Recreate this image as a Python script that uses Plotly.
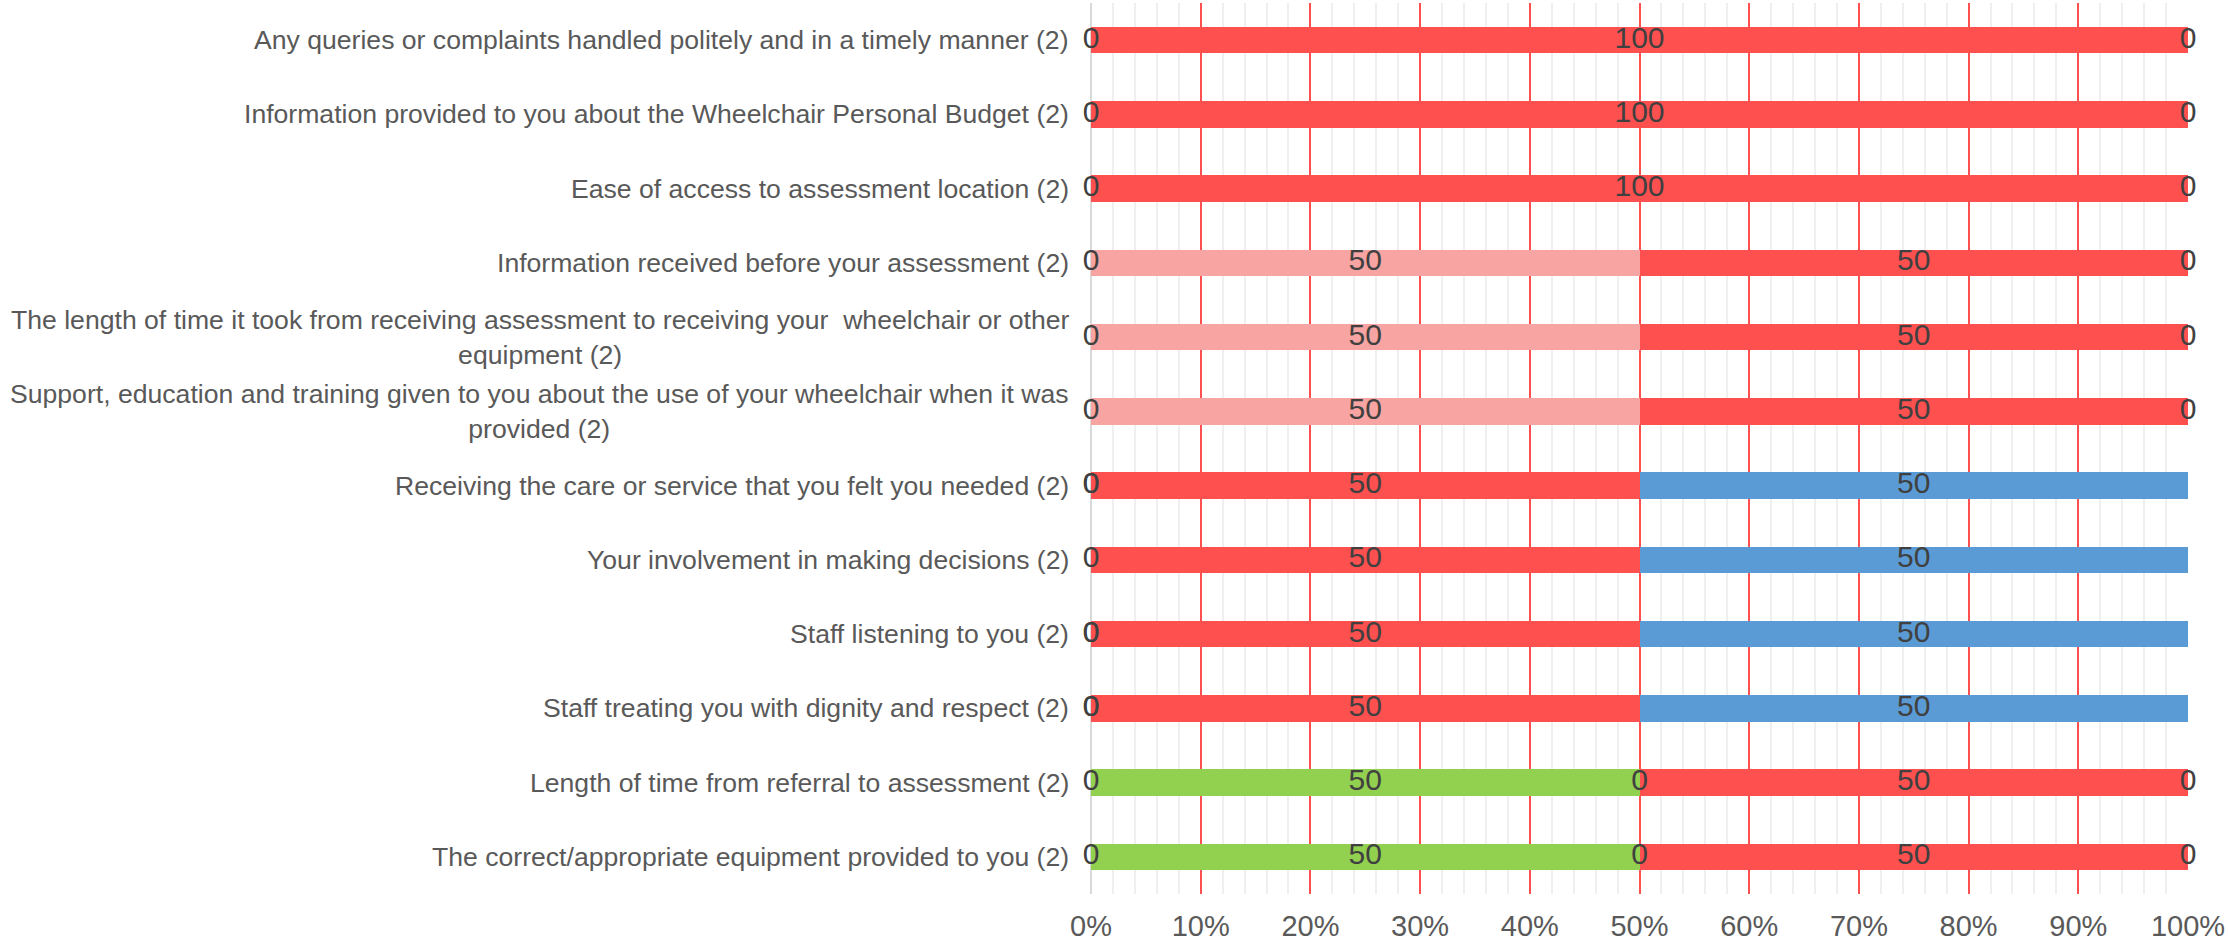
import numpy as np
import plotly.graph_objects as go

categories = [
    "Any queries or complaints handled politely and in a timely manner (2)",
    "Information provided to you about the Wheelchair Personal Budget (2)",
    "Ease of access to assessment location (2)",
    "Information received before your assessment (2)",
    "The length of time it took from receiving assessment to receiving your  wheelchair or other<br>equipment (2)",
    "Support, education and training given to you about the use of your wheelchair when it was<br>provided (2)",
    "Receiving the care or service that you felt you needed (2)",
    "Your involvement in making decisions (2)",
    "Staff listening to you (2)",
    "Staff treating you with dignity and respect (2)",
    "Length of time from referral to assessment (2)",
    "The correct/appropriate equipment provided to you (2)",
]

RED, PINK, BLUE, GREEN = "#FF5050", "#F8A4A2", "#5B9BD5", "#92D050"

# segments left to right (percent); None = segment not present / no label
seg1 = [0, 0, 0, 0, 0, 0, 0, 0, 0, 0, 0, 0]
seg2 = [None, None, None, None, None, None, 0, None, 0, 0, None, None]
seg3 = [100, 100, 100, 50, 50, 50, 50, 50, 50, 50, 50, 50]
seg4 = [None, None, None, None, None, None, None, None, None, None, 0, 0]
seg5 = [0, 0, 0, 50, 50, 50, 50, 50, 50, 50, 50, 50]
seg6 = [None, None, None, 0, 0, 0, None, None, None, None, 0, 0]

col1 = [RED] * 12
col2 = [RED] * 12
col3 = [RED] * 3 + [PINK] * 3 + [RED] * 4 + [GREEN] * 2
col4 = [RED] * 12
col5 = [RED] * 3 + [RED] * 3 + [BLUE] * 4 + [RED] * 2
col6 = [RED] * 12

series = [(seg1, col1), (seg2, col2), (seg3, col3), (seg4, col4), (seg5, col5), (seg6, col6)]

FONT = "Liberation Sans, Arial, sans-serif"

fig = go.Figure()
cum = np.zeros(len(categories))
lab_x, lab_y, lab_t = [], [], []
for vals, cols in series:
    v = np.array([0 if a is None else a for a in vals], dtype=float)
    fig.add_trace(go.Bar(
        orientation="h", x=v, y=categories, marker=dict(color=cols, line=dict(width=0)),
        width=0.355, hoverinfo="skip", showlegend=False,
    ))
    for i, a in enumerate(vals):
        if a is not None:
            lab_x.append(cum[i] + v[i] / 2)
            lab_y.append(categories[i])
            lab_t.append(str(int(a)))
    cum += v

fig.add_trace(go.Scatter(
    x=lab_x, y=lab_y, text=lab_t, mode="text", cliponaxis=False,
    textfont=dict(family=FONT, size=30, color="#404040"),
    hoverinfo="skip", showlegend=False,
))

for c in categories:
    fig.add_annotation(
        x=0, y=c, xref="x", yref="y", text=c, showarrow=False,
        xanchor="right", yanchor="middle", align="center", xshift=-20,
        font=dict(family=FONT, size=26.6, color="#595959"),
    )

fig.update_layout(
    width=2228, height=952, barmode="stack",
    margin=dict(l=1091, r=38, t=3, b=58),
    paper_bgcolor="white", plot_bgcolor="white",
    font=dict(family=FONT),
    xaxis=dict(
        range=[0, 100], dtick=10, ticksuffix="%", showline=False,
        showgrid=True, gridcolor="#FF5050", gridwidth=1.5,
        zeroline=True, zerolinecolor="#D9D9D9", zerolinewidth=1.5,
        minor=dict(dtick=2, showgrid=True, gridcolor="#EFEFEF", gridwidth=1.5),
        tickfont=dict(family=FONT, size=29, color="#595959"),
        ticks="", ticklabelstandoff=12,
    ),
    yaxis=dict(
        range=[len(categories) - 0.5, -0.5], showticklabels=False, showgrid=False,
        zeroline=False, showline=False, ticks="",
    ),
)

fig.write_html("out.html")
